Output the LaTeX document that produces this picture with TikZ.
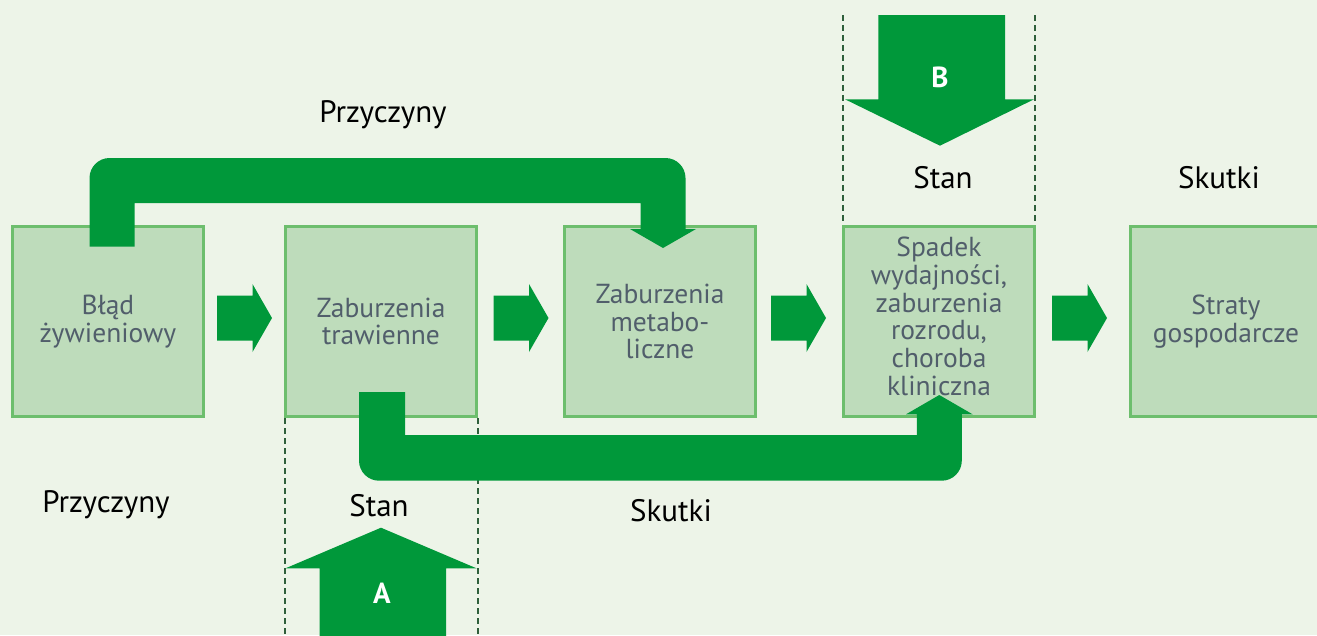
\documentclass[tikz,border=0pt]{standalone}
\usepackage{fontspec}
\setmainfont{PT Sans}
\definecolor{bgc}{HTML}{EDF4E8}
\definecolor{boxfill}{HTML}{BEDCBB}
\definecolor{boxline}{HTML}{6DBE6D}
\definecolor{grn}{HTML}{00983A}
\definecolor{boxtext}{HTML}{515E6B}
\definecolor{dashc}{HTML}{2F5F3B}
\begin{document}
\begin{tikzpicture}[x=1pt,y=-1pt,
  box/.style={draw=boxline, fill=boxfill, line width=3pt, minimum width=191pt, minimum height=190pt,
    inner sep=0pt, align=center, text=boxtext, font=\fontsize{27.5}{27.7}\selectfont},
  boxtxt/.style={inner sep=0pt, align=center, text=boxtext, font=\fontsize{27.5}{27.7}\selectfont},
  lbl/.style={inner sep=0pt, text=black, font=\fontsize{31}{33}\selectfont},
  blk/.style={fill=grn},
  letter/.style={inner sep=0pt, text=white, font=\fontsize{29}{30}\selectfont\bfseries},
  dashline/.style={draw=dashc, line width=1.8pt, dash pattern=on 6pt off 4pt}]
\fill[bgc] (0,0) rectangle (1317,635);
\useasboundingbox (0,0) rectangle (1317,635);
\clip (0,0) rectangle (1317,635);

% dashed guides
\draw[dashline] (842.7,15) -- (842.7,225);
\draw[dashline] (1035.3,15) -- (1035.3,225);
\draw[dashline] (284.6,418) -- (284.6,640);
\draw[dashline] (478.3,418) -- (478.3,640);

% boxes
\node[box] (b1) at (108,321.5) {Błąd\\żywieniowy};
\node[box] (b2) at (381,321.5) {Zaburzenia\\trawienne};
\node[box] (b3) at (660,321.5) {Zaburzenia\\metabo-\\liczne};
\node[box] (b4) at (939,321.5) {};
\node[boxtxt] (b4t) at ([yshift=5pt]b4.center) {Spadek\\wydajności,\\zaburzenia\\rozrodu,\\choroba\\kliniczna};
\node[box] (b5) at (1226,321.5) {Straty\\gospodarcze};

% small right arrows
\foreach \x in {217,493.5,771,1052}
  \fill[blk] (\x,295.7) -- ++(35.5,0) -- ++(0,-11.7) -- ++(19.5,34) -- ++(-19.5,34) -- ++(0,-11.3) -- ++(-35.5,0) -- cycle;

% top connector b1 -> b3
\fill[blk] (89.5,246.7) -- (89.5,178) .. controls (89.5,167) and (98.5,158) .. (109.5,158)
  -- (665.5,158) .. controls (676.5,158) and (685.5,167) .. (685.5,178)
  -- (685.5,229) -- (696,229) -- (663,248) -- (630,229) -- (640.5,229) -- (640.5,203)
  -- (134.5,203) -- (134.5,246.7) -- cycle;

% bottom connector b2 -> b4
\fill[blk] (359,392) -- (405,392) -- (405,435) -- (916.8,435) -- (916.8,414.3) -- (906,414.3)
  -- (939.3,395) -- (972.6,414.3) -- (961.8,414.3) -- (961.8,460.7)
  .. controls (961.8,471.7) and (952.8,480.7) .. (941.8,480.7)
  -- (379,480.7) .. controls (368,480.7) and (359,471.7) .. (359,460.7) -- cycle;

% B arrow
\fill[blk] (878.3,15) -- (1005,15) -- (1005,99.3) -- (1034,99.3) -- (940,145.7) -- (845,99.3) -- (878.3,99.3) -- cycle;
\node[letter] (lb) at (940,77) {B};

% A arrow
\fill[blk] (319.5,640) -- (319.5,568.3) -- (285.5,568.3) -- (381,527.7) -- (476.5,568.3) -- (446,568.3) -- (446,640) -- cycle;
\node[letter] (la) at (382,593) {A};

% labels
\node[lbl] (p1) at (383,115) {Przyczyny};
\node[lbl] (p2) at (106,505) {Przyczyny};
\node[lbl] (s1) at (943,178) {Stan};
\node[lbl] (s2) at (379,506) {Stan};
\node[lbl] (k1) at (1219,178) {Skutki};
\node[lbl] (k2) at (671,511) {Skutki};
\end{tikzpicture}
\end{document}
